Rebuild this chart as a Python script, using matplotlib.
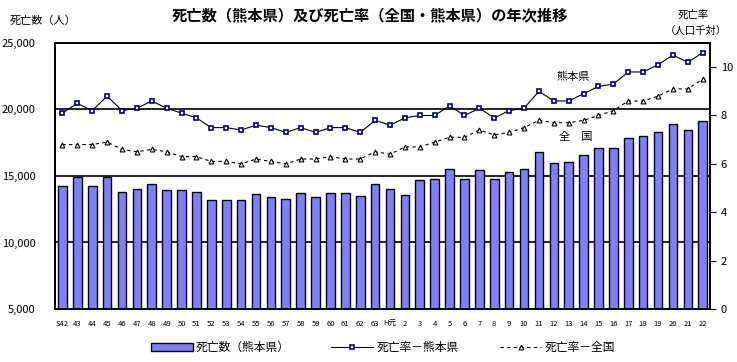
import matplotlib
matplotlib.use("Agg")
import matplotlib.pyplot as plt
import numpy as np

plt.rcParams['font.family'] = ['Noto Sans CJK JP', 'DejaVu Sans']

# 年次（昭和42年～平成22年）
years = ["S42"] + [str(y) for y in range(43, 64)] + ["H元"] + [str(y) for y in range(2, 23)]

# 死亡数（熊本県）
deaths = [14250, 14920, 14250, 14920, 13800, 14020, 14400, 13950, 13950, 13800,
          13220, 13220, 13220, 13650, 13420, 13270, 13720, 13420, 13720, 13720,
          13500, 14400, 14020, 13570, 14700, 14770, 15520, 14770, 15450, 14770,
          15300, 15520, 16800, 15980, 16050, 16560, 17080, 17080, 17860, 18010,
          18310, 18910, 18460, 19140]

# 死亡率（人口千対）
rate_kumamoto = [8.1, 8.5, 8.2, 8.8, 8.2, 8.3, 8.6, 8.3, 8.1, 7.9,
                 7.5, 7.5, 7.4, 7.6, 7.5, 7.3, 7.5, 7.3, 7.5, 7.5,
                 7.3, 7.8, 7.6, 7.9, 8.0, 8.0, 8.4, 8.0, 8.3, 7.9,
                 8.2, 8.3, 9.0, 8.6, 8.6, 8.9, 9.2, 9.3, 9.8, 9.8,
                 10.1, 10.5, 10.2, 10.6]
rate_japan = [6.8, 6.8, 6.8, 6.9, 6.6, 6.5, 6.6, 6.5, 6.3, 6.3,
              6.1, 6.1, 6.0, 6.2, 6.1, 6.0, 6.2, 6.2, 6.3, 6.2,
              6.2, 6.5, 6.4, 6.7, 6.7, 6.9, 7.1, 7.1, 7.4, 7.2,
              7.3, 7.5, 7.8, 7.7, 7.7, 7.8, 8.0, 8.2, 8.6, 8.6,
              8.8, 9.1, 9.1, 9.5]

x = np.arange(len(years))

fig = plt.figure(figsize=(7.37, 3.62), dpi=100)
ax = fig.add_axes([0.0746, 0.1464, 0.889, 0.735])
ax2 = ax.twinx()

for yv in [10000, 15000, 20000]:
    ax.axhline(yv, color='black', lw=1.2, zorder=0)

bars = ax.bar(x, deaths, width=0.58, color='#8080ff', edgecolor='black',
              linewidth=1.0, zorder=2, label='死亡数（熊本県）')
ax.set_xlim(-0.5, len(years) - 0.5)
ax.set_ylim(5000, 25000)
ax.set_yticks([5000, 10000, 15000, 20000, 25000])
ax.set_yticklabels(['5,000', '10,000', '15,000', '20,000', '25,000'], fontsize=8)
ax.tick_params(axis='y', length=0, pad=14)
ax.set_xticks(x)
ax.set_xticklabels(years, fontsize=5.5)
ax.tick_params(axis='x', length=0, pad=8)

l1, = ax2.plot(x, rate_kumamoto, color='black', lw=0.8, marker='s', markersize=3.5,
               markerfacecolor='white', markeredgecolor='#000080', markeredgewidth=1.2,
               label='死亡率－熊本県')
l2, = ax2.plot(x, rate_japan, color='black', lw=0.8, ls=(0, (3, 3)), marker='^',
               markersize=3.5, markerfacecolor='white', markeredgecolor='black',
               markeredgewidth=0.8, label='死亡率－全国')
ax2.set_ylim(0, 11)
ax2.set_yticks([0, 2, 4, 6, 8, 10])
ax2.tick_params(axis='y', labelsize=8, length=4, direction='out')

ax.set_zorder(ax2.get_zorder() - 1)
ax2.patch.set_visible(False)

for a in (ax, ax2):
    for s in a.spines.values():
        s.set_linewidth(1.3)

fig.text(0.502, 0.957, '死亡数（熊本県）及び死亡率（全国・熊本県）の年次推移',
         ha='center', va='center', fontsize=11, fontweight='bold')
fig.text(0.013, 0.943, '死亡数（人）', ha='left', va='center', fontsize=8)
fig.text(0.940, 0.960, '死亡率', ha='center', va='center', fontsize=7.5)
fig.text(0.944, 0.915, '（人口千対）', ha='center', va='center', fontsize=7.5)

ax2.text(34.3, 9.6, '熊本県', ha='center', va='center', fontsize=8)
ax2.text(34.5, 7.1, '全　国', ha='center', va='center', fontsize=8)

fig.legend(handles=[bars, l1, l2], loc='center', bbox_to_anchor=(0.52, 0.04),
           ncol=3, frameon=False, fontsize=8.5, handlelength=3.5,
           columnspacing=3.5, handletextpad=0.3)

fig.savefig('out.png', dpi=100)
